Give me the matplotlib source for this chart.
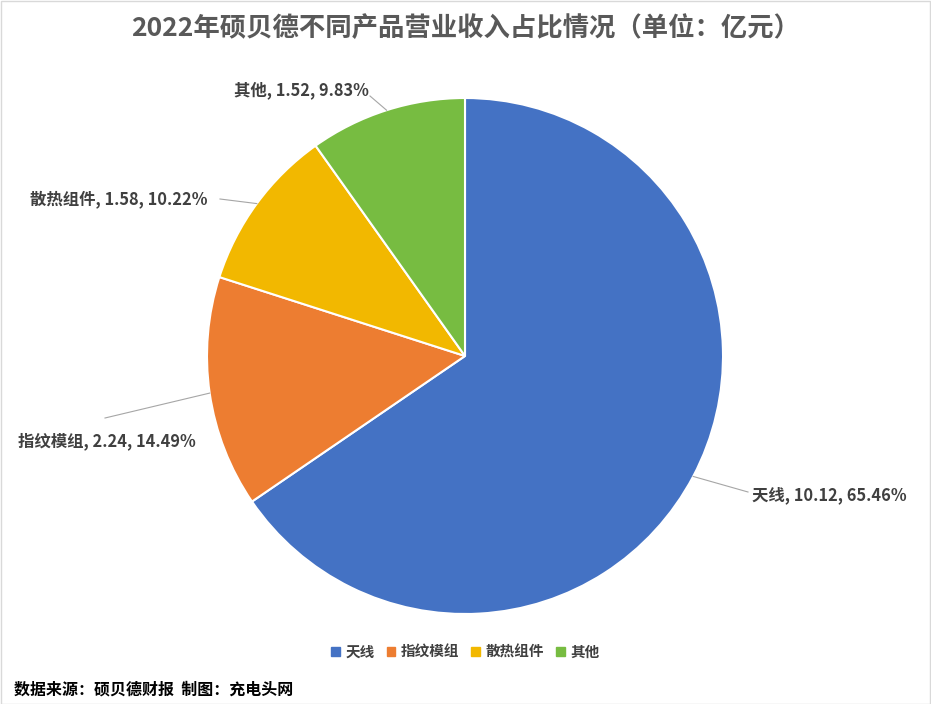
import numpy as np
import matplotlib
matplotlib.use('Agg')
import matplotlib.pyplot as plt

plt.rcParams['font.family'] = ['Noto Sans CJK SC', 'DejaVu Sans']

names = ['天线', '指纹模组', '散热组件', '其他']
values = [10.12, 2.24, 1.58, 1.52]
pcts = ['65.46%', '14.49%', '10.22%', '9.83%']
colors = ['#4472C4', '#ED7D31', '#F2B800', '#77BC41']

W, H = 931, 704
fig = plt.figure(figsize=(W / 100, H / 100), dpi=100)
ax = fig.add_axes([0, 0, 1, 1])

cx, cy, r = 465, H - 356, 258
wedges, _ = ax.pie(values, colors=colors, startangle=90, counterclock=False,
                   center=(cx, cy), radius=r, frame=True,
                   wedgeprops=dict(edgecolor='white', linewidth=1.5))
ax.set_xlim(0, W)
ax.set_ylim(0, H)
ax.axis('off')

# label text anchor (pixel coords from top-left) and leader end
label_pos = [(752, 495), (18, 441), (30, 199), (234, 90)]
line_end = [(748, 492), (105, 418), (220, 199), (370, 96)]
for w, n, v, p, (lx, ly), (ex, ey) in zip(wedges, names, values, pcts, label_pos, line_end):
    ang = np.deg2rad((w.theta1 + w.theta2) / 2)
    px, py = cx + r * np.cos(ang), cy + r * np.sin(ang)
    ax.plot([px, ex], [py, H - ey], color='#A6A6A6', lw=0.8)
    ax.text(lx, H - ly, f'{n}, {v:.2f}, {p}', ha='left', va='center',
            fontsize=11.8, fontweight='bold', color='#404040')

ax.text(W / 2, H - 28, '2022年硕贝德不同产品营业收入占比情况（单位：亿元）', ha='center',
        va='center', fontsize=19, fontweight='bold', color='#595959')

handles = [plt.Rectangle((0, 0), 1, 1, color=c) for c in colors]
fig.legend(handles, names, loc='center', bbox_to_anchor=(0.5, 1 - 652 / H), ncol=4,
           frameon=False, handlelength=0.6, handleheight=0.6, handletextpad=0.4,
           columnspacing=0.8, prop={'size': 10.5, 'weight': 'bold'}, labelcolor='#404040')

ax.text(14, H - 690, '数据来源：硕贝德财报  制图：充电头网', ha='left', va='center',
        fontsize=11.5, fontweight='bold', color='black')

fig.patches.append(plt.Rectangle((0.5 / W, 0.5 / H), 1 - 1.5 / W, 1 - 1.5 / H,
                                 transform=fig.transFigure, fill=False, ec='#D9D9D9', lw=1))
fig.savefig('out.png', dpi=100)
